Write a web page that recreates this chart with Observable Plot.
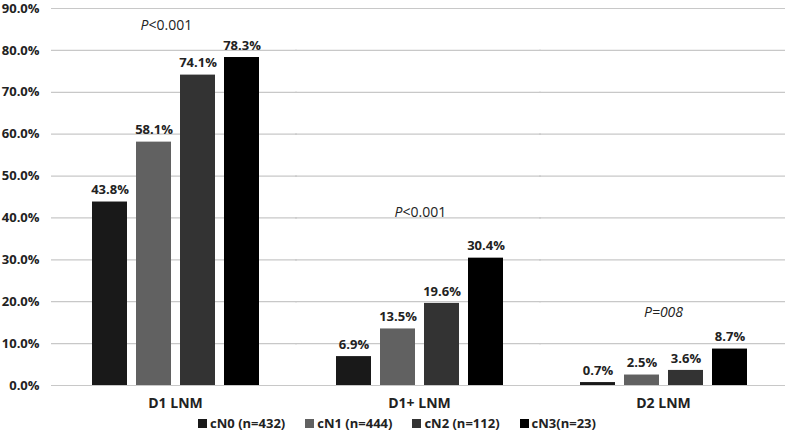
<!DOCTYPE html>
<html>
<head>
<meta charset="utf-8">
<script src="https://cdn.jsdelivr.net/npm/d3@7"></script>
<script src="https://cdn.jsdelivr.net/npm/@observablehq/plot@0.6"></script>
<style>
  body { margin: 0; background: #fff; font-family: "Open Sans", sans-serif; }
  #chart { width: 790px; }
  .legend { display: flex; justify-content: center; gap: 20px; height: 22px; align-items: center;
            font-family: "Open Sans", sans-serif; font-size: 13px; font-weight: bold; color: #222; padding-left: 4px; }
  .legend span.sw { display: inline-block; width: 9px; height: 9px; margin-right: 3px; }
</style>
</head>
<body>
<div id="chart"></div>
<script>
const groups = ["D1 LNM", "D1+ LNM", "D2 LNM"];
const series = ["cN0 (n=432)", "cN1 (n=444)", "cN2 (n=112)", "cN3(n=23)"];
const colors = ["#191919", "#616161", "#333333", "#000000"];
const valD1 = [0.438, 0.581, 0.741, 0.783];
const valD1plus = [0.069, 0.135, 0.196, 0.304];
const valD2 = [0.007, 0.025, 0.036, 0.087];
const yTicks = [0, 0.1, 0.2, 0.3, 0.4, 0.5, 0.6, 0.7, 0.8, 0.9];
const pGroups = ["D1 LNM", "D1+ LNM", "D2 LNM"];
const pYs = [0.86, 0.412, 0.174];

const allVals = [valD1, valD1plus, valD2];
const data = [];
groups.forEach((g, gi) => series.forEach((s, si) => data.push({group: g, series: s, value: allVals[gi][si]})));

const font = "'Open Sans', sans-serif";
const plot = Plot.plot({
  width: 790,
  height: 412,
  marginLeft: 52,
  marginRight: 5,
  marginTop: 8,
  marginBottom: 27,
  style: {fontFamily: font, background: "#fff", overflow: "visible"},
  fx: {domain: groups, padding: 0, label: null},
  x: {domain: series, axis: null, paddingInner: 0.21, paddingOuter: 0.846},
  y: {domain: [0, 0.9], axis: null},
  color: {domain: series, range: colors},
  marks: [
    Plot.ruleY(yTicks, {stroke: "#c8c8c8", strokeWidth: 1.2, insetLeft: -2}),
    Plot.axisY({ticks: yTicks, tickFormat: d3.format(".1%"), tickSize: 0, tickPadding: 14,
      fontSize: 13, fontWeight: "bold", fill: "#222", label: null}),
    Plot.barY(data, {fx: "group", x: "series", y: "value", fill: "series"}),
    Plot.text(data, {fx: "group", x: "series", y: "value", text: d => d3.format(".1%")(d.value),
      dy: -12, fontSize: 13, fontWeight: "bold", fill: "#222"}),
    Plot.axisFx({anchor: "bottom", tickSize: 0, tickPadding: 13, fontSize: 14, fontWeight: "bold", fill: "#222", label: null}),
    // P-value annotations
    Plot.text([0], {fx: () => pGroups[0], y: () => pYs[0], text: () => "P", fontStyle: "italic",
      textAnchor: "end", frameAnchor: "middle", dx: -27, fontSize: 14, fill: "#222"}),
    Plot.text([0], {fx: () => pGroups[0], y: () => pYs[0], text: () => "<0.001",
      textAnchor: "start", frameAnchor: "middle", dx: -27, fontSize: 14, fill: "#222"}),
    Plot.text([0], {fx: () => pGroups[1], y: () => pYs[1], text: () => "P", fontStyle: "italic",
      textAnchor: "end", frameAnchor: "middle", dx: -17, fontSize: 14, fill: "#222"}),
    Plot.text([0], {fx: () => pGroups[1], y: () => pYs[1], text: () => "<0.001",
      textAnchor: "start", frameAnchor: "middle", dx: -17, fontSize: 14, fill: "#222"}),
    Plot.text([0], {fx: () => pGroups[2], y: () => pYs[2], text: () => "P=008", fontStyle: "italic",
      frameAnchor: "middle", dx: 0, fontSize: 14, fill: "#222"})
  ]
});
document.getElementById("chart").appendChild(plot);

const legend = document.createElement("div");
legend.className = "legend";
series.forEach((s, i) => {
  const item = document.createElement("div");
  item.innerHTML = `<span class="sw" style="background:${colors[i]}"></span>${s}`;
  legend.appendChild(item);
});
document.getElementById("chart").appendChild(legend);
</script>
</body>
</html>
